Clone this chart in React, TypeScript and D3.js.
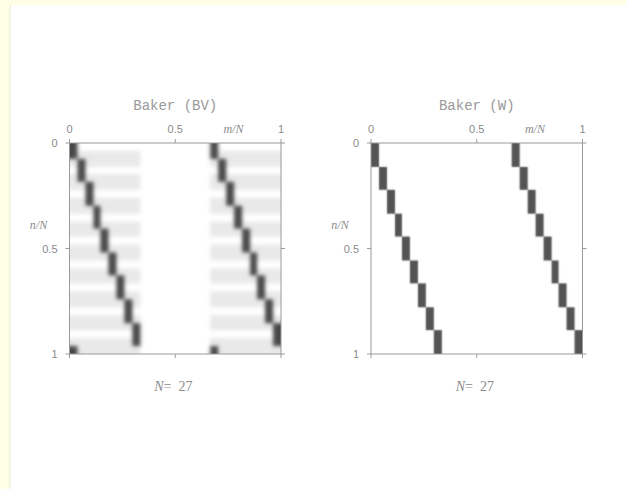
import React, { useMemo } from "react";
import * as d3 from "d3";

// Transfer-matrix density plots for the quantum baker's map, N = 27
const N = 27;
const stripeStarts = [0, 18]; // first column of each of the two stripes
const stripeWidth = 9;
const axisTicks = [0, 0.5, 1];
const tickLabels = ["0", "0.5", "1"];

// Baker (W): column of the dark cell inside each stripe, per row n
const wPeak = [0, 0, 0, 1, 1, 1, 2, 2, 2, 3, 3, 3, 4, 4, 4, 5, 5, 5, 6, 6, 6, 7, 7, 7, 8, 8, 8];
const wPeakLevel = 0.67;

// Baker (BV): column of the dark cell inside each stripe, per row n
const bvPeak = [0, 0, 1, 1, 1, 2, 2, 2, 3, 3, 3, 4, 4, 4, 5, 5, 5, 6, 6, 6, 7, 7, 7, 8, 8, 8, 0];
const bvPeakLevel = 0.72;
// Baker (BV): faint background level across each stripe, per row n
const bvBand = [0, 0.085, 0.085, 0, 0.085, 0.085, 0, 0.085, 0.085, 0, 0.085, 0.085, 0, 0.085, 0.085, 0, 0.085, 0.085, 0, 0.085, 0.085, 0, 0.085, 0.085, 0, 0.085, 0.085];

const W = 626;
const H = 489;
const plotTop = 143;
const plotBottom = 354;
const plotSize = 211.5;

type Cell = { n: number; m: number; v: number };

function buildCells(peak: number[], peakLevel: number, band: number[] | null): Cell[] {
  const cells: Cell[] = [];
  for (let n = 0; n < N; n++) {
    for (const s of stripeStarts) {
      for (let c = 0; c < stripeWidth; c++) {
        const v = c === peak[n] ? peakLevel : band ? band[n] : 0;
        if (v > 0) cells.push({ n, m: s + c, v });
      }
    }
  }
  return cells;
}

// Gaussian smoothing along one axis of a size x size field (edges clamped)
function smooth1d(src: Float32Array, size: number, sigma: number, horizontal: boolean): Float32Array {
  if (sigma <= 0) return src;
  const r = Math.ceil(sigma * 3);
  const k: number[] = [];
  let sum = 0;
  for (let i = -r; i <= r; i++) {
    const w = Math.exp(-(i * i) / (2 * sigma * sigma));
    k.push(w);
    sum += w;
  }
  for (let i = 0; i < k.length; i++) k[i] /= sum;
  const out = new Float32Array(src.length);
  for (let yy = 0; yy < size; yy++) {
    for (let xx = 0; xx < size; xx++) {
      let acc = 0;
      for (let i = -r; i <= r; i++) {
        const sx = horizontal ? Math.min(size - 1, Math.max(0, xx + i)) : xx;
        const sy = horizontal ? yy : Math.min(size - 1, Math.max(0, yy + i));
        acc += src[sy * size + sx] * k[i + r];
      }
      out[yy * size + xx] = acc;
    }
  }
  return out;
}

// Rasterise the matrix to a bitmap at screen resolution, softened by sigma px
function densityImage(cells: Cell[], size: number, sigma: number): string {
  if (typeof document === "undefined") return "";
  const grid = new Float32Array(N * N);
  for (const d of cells) grid[d.n * N + d.m] = d.v;
  let field = new Float32Array(size * size);
  for (let yy = 0; yy < size; yy++) {
    const n = Math.min(N - 1, Math.floor(((yy + 0.5) / size) * N));
    for (let xx = 0; xx < size; xx++) {
      const m = Math.min(N - 1, Math.floor(((xx + 0.5) / size) * N));
      field[yy * size + xx] = grid[n * N + m];
    }
  }
  field = smooth1d(field, size, sigma, true);
  field = smooth1d(field, size, sigma, false);
  const canvas = document.createElement("canvas");
  canvas.width = size;
  canvas.height = size;
  const ctx = canvas.getContext("2d");
  if (!ctx) return "";
  const img = ctx.createImageData(size, size);
  for (let i = 0; i < size * size; i++) {
    const g = Math.round(255 * (1 - field[i]));
    img.data[i * 4] = g;
    img.data[i * 4 + 1] = g;
    img.data[i * 4 + 2] = g;
    img.data[i * 4 + 3] = 255;
  }
  ctx.putImageData(img, 0, 0);
  return canvas.toDataURL("image/png");
}

const axisColor = "#9a9a9a";
const textColor = "#8a8a8a";

function Panel({
  id,
  left,
  title,
  cells,
  sigma,
}: {
  id: string;
  left: number;
  title: string;
  cells: Cell[];
  sigma: number;
}) {
  const x = d3.scaleLinear().domain([0, 1]).range([left, left + plotSize]);
  const y = d3.scaleLinear().domain([0, 1]).range([plotTop, plotBottom]);
  const cx = (left + left + plotSize) / 2;
  const size = Math.round(x(1) - x(0));
  const href = useMemo(() => densityImage(cells, size, sigma), [cells, size, sigma]);
  return (
    <g id={`panel-${id}`}>
      <image
        href={href}
        x={x(0)}
        y={y(0)}
        width={x(1) - x(0)}
        height={y(1) - y(0)}
        preserveAspectRatio="none"
      />
      {/* frame */}
      <rect
        x={x(0)}
        y={y(0)}
        width={x(1) - x(0)}
        height={y(1) - y(0)}
        fill="none"
        stroke={axisColor}
        strokeWidth={1}
      />
      {/* outward ticks on all four sides */}
      {axisTicks.map((t) => (
        <g key={t} stroke={axisColor} strokeWidth={1}>
          <line x1={x(t)} x2={x(t)} y1={y(0) - 4} y2={y(0)} />
          <line x1={x(t)} x2={x(t)} y1={y(1)} y2={y(1) + 4} />
          <line x1={x(0) - 4} x2={x(0)} y1={y(t)} y2={y(t)} />
          <line x1={x(1)} x2={x(1) + 4} y1={y(t)} y2={y(t)} />
        </g>
      ))}
      {/* tick labels */}
      {axisTicks.map((t, i) => (
        <text
          key={`tx${t}`}
          x={x(t)}
          y={y(0) - 10}
          textAnchor="middle"
          fontFamily="Liberation Sans, Arial, sans-serif"
          fontSize={11}
          fill={textColor}
        >
          {tickLabels[i]}
        </text>
      ))}
      {axisTicks.map((t, i) => (
        <text
          key={`ty${t}`}
          x={x(0) - 12}
          y={y(t) + 4}
          textAnchor="end"
          fontFamily="Liberation Sans, Arial, sans-serif"
          fontSize={11}
          fill={textColor}
        >
          {tickLabels[i]}
        </text>
      ))}
      <text
        x={x(0.775)}
        y={y(0) - 10}
        textAnchor="middle"
        fontFamily="Liberation Serif, Times New Roman, serif"
        fontStyle="italic"
        fontSize={12}
        fill={textColor}
      >
        m/N
      </text>
      <text
        x={x(0) - 31}
        y={y(0.39) + 4}
        textAnchor="middle"
        fontFamily="Liberation Serif, Times New Roman, serif"
        fontStyle="italic"
        fontSize={12}
        fill={textColor}
      >
        n/N
      </text>
      <text
        x={cx}
        y={110}
        textAnchor="middle"
        fontFamily="Liberation Mono, Courier New, monospace"
        fontSize={14}
        fill="#999999"
      >
        {title}
      </text>
      <text
        x={cx - 2}
        y={391}
        textAnchor="middle"
        fontFamily="Liberation Serif, Times New Roman, serif"
        fontSize={14}
        fill={textColor}
      >
        <tspan fontStyle="italic">N</tspan>
        <tspan>=</tspan>
        <tspan dx={7}>{N}</tspan>
      </text>
    </g>
  );
}

const bvCells = buildCells(bvPeak, bvPeakLevel, bvBand);
const wCells = buildCells(wPeak, wPeakLevel, null);

export default function App() {
  return (
    <div style={{ position: "absolute", left: 0, top: 0 }}>
      <svg width={W} height={H} style={{ display: "block" }}>
        <rect x={0} y={0} width={W} height={H} fill="#ffffe6" />
        <rect x={10} y={5} width={W - 10} height={H - 5} fill="#ffffff" />
        <line x1={10} x2={10} y1={5} y2={H} stroke="#e9e9d2" strokeWidth={1} />
        <Panel id="bv" left={69.5} title="Baker (BV)" cells={bvCells} sigma={2.0} />
        <Panel id="w" left={371} title="Baker (W)" cells={wCells} sigma={0.7} />
      </svg>
    </div>
  );
}
